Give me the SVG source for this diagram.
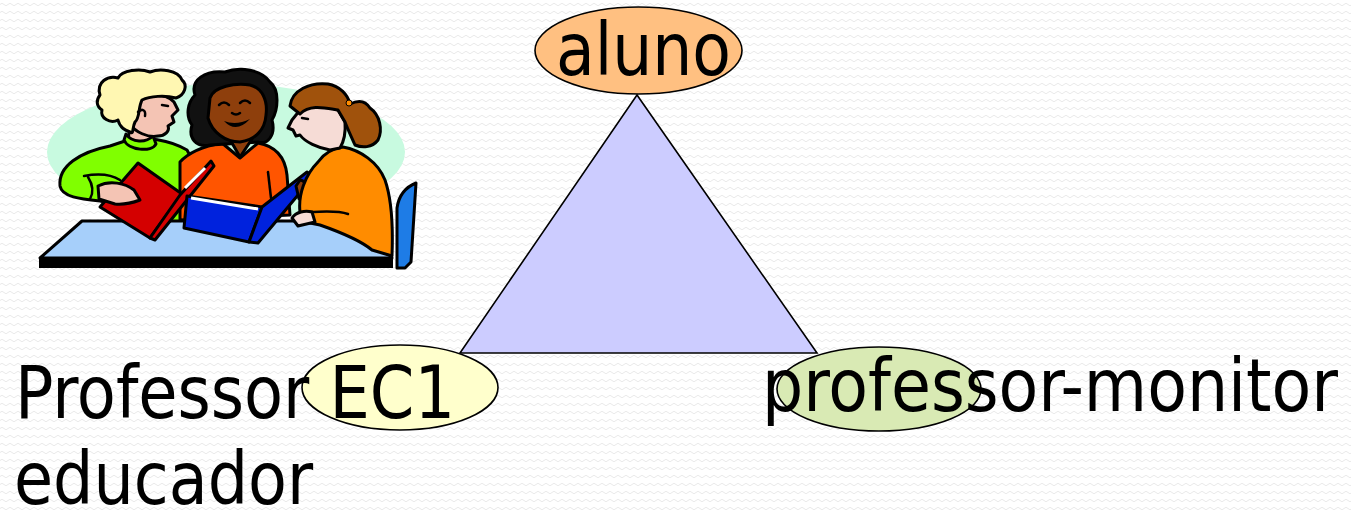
<svg xmlns="http://www.w3.org/2000/svg" width="1351" height="510" viewBox="0 0 1351 510">
<defs>
<pattern id="bgwave" width="8" height="8" patternUnits="userSpaceOnUse">
<path d="M0,4.5 Q2,2 4,4.5 T8,4.5" fill="none" stroke="#e6e6e6" stroke-width="0.9"/>
</pattern>
<style>
.lbl{font-family:"DejaVu Sans Condensed","DejaVu Sans",Verdana,sans-serif;font-size:73px;fill:#000;}
.node{stroke:#000;stroke-width:1.6;}
.ol{stroke:#000;stroke-width:3;stroke-linejoin:round;stroke-linecap:round;}
.ln{fill:none;stroke:#000;stroke-width:2.5;stroke-linecap:round;}
</style>
</defs>
<rect width="1351" height="510" fill="#ffffff"/>
<rect width="1351" height="510" fill="url(#bgwave)"/>

<g id="clipart">
<ellipse cx="226" cy="152" rx="179" ry="68" fill="#c8fae0"/>
<!-- left girl -->
<path class="ol" fill="#80ff00" d="M60,186 C58,166 80,152 110,146 L128,140 C145,136 170,140 187,150 L195,165 L192,222 L120,222 L118,205 L100,201 C80,199 62,197 60,186 Z"/>
<path class="ln" d="M88,177 C93,185 94,192 90,199"/>
<path class="ln" d="M84,176 C100,173 112,175 120,180"/>
<path class="ol" fill="#f4c4b4" d="M130,126 L128,140 C135,146 150,146 153,138 L150,124 Z"/>
<path class="ol" fill="#80ff00" d="M124,140 C128,150 152,153 156,144 L153,136 C146,143 132,143 126,134 Z"/>
<path class="ol" fill="#f4c4b4" d="M132,100 C140,92 165,92 174,102 L178,110 L172,116 L174,122 L168,126 C170,131 165,136 158,136 C148,138 135,132 130,124 Z"/>
<path class="ol" fill="#fff7b2" d="M100,95 C96,82 108,75 118,78 C122,70 140,68 150,72 C160,68 178,70 182,80 C188,85 185,95 176,98 C165,95 150,96 142,100 C138,108 140,118 135,122 C132,128 134,135 130,132 C125,130 120,128 118,120 C110,124 100,118 102,110 C96,106 96,100 100,95 Z"/>
<path class="ln" d="M162,105 L168,106" stroke-width="2"/>
<path class="ln" d="M138,112 C142,108 146,110 145,116" stroke-width="2"/>
<!-- middle girl -->
<path class="ol" fill="#ff5500" d="M180,162 C190,151 205,146 222,143 L240,158 L258,143 C275,146 285,156 287,175 L290,215 L180,220 Z"/>
<path class="ol" fill="#111111" d="M195,95 C190,80 205,70 225,72 C240,66 262,70 270,82 C280,90 278,110 272,120 C276,135 268,145 258,142 L210,145 C196,148 188,138 192,125 C185,115 188,102 195,95 Z"/>
<path class="ol" fill="#8e3f0c" d="M228,136 L240,157 L254,136 Z"/>
<path class="ol" fill="#8e3f0c" d="M210,98 C214,86 235,83 250,85 C262,88 268,100 266,115 C265,130 255,140 240,142 C225,142 212,132 208,118 Z"/>
<path class="ln" d="M219,105 Q224,100 229,105 M240,103 Q245,98 250,103" stroke-width="2"/>
<path class="ln" d="M232,113 Q236,116 240,113" stroke-width="2"/>
<path fill="#000" d="M224,121 Q236,134 250,119 Q236,126 224,121 Z"/>
<path class="ln" d="M268,172 L271,198"/>
<!-- table -->
<path fill="#a6cffa" class="ol" d="M40,258 L82,221 L362,221 L392,258 Z"/>
<rect x="39" y="257" width="354" height="11" fill="#000"/>
<!-- red book -->
<path class="ol" fill="#d40000" d="M138,163 L100,207 L150,238 L182,194 Z"/>
<path class="ol" fill="#d40000" d="M180,195 L211,161 L214,166 L155,240 L150,238 Z"/>
<path d="M185,188 L205,168" stroke="#fff" stroke-width="3"/>
<path class="ol" fill="#f4c4b4" d="M98,186 C110,180 125,183 134,190 L140,200 C132,203 125,205 115,204 L99,199 Z"/>
<!-- blue book -->
<path class="ol" fill="#0022dd" d="M187,196 L184,228 L249,242 L262,207 Z"/>
<path d="M191,198 L258,209" stroke="#fff" stroke-width="3"/>
<path class="ol" fill="#0022dd" d="M249,242 L262,207 L307,172 L313,177 L258,243 Z"/>
<path class="ol" fill="#8e3f0c" d="M300,180 C306,181 311,189 307,199 L299,199 L296,186 Z"/>
<!-- right girl -->
<path class="ol" fill="#ff8c00" d="M300,212 C298,195 305,175 318,162 C325,152 335,148 343,147 C360,150 378,162 385,180 C392,200 393,230 392,256 L372,250 C360,240 340,232 320,225 L305,222 Z"/>
<path class="ln" d="M348,214 C336,210 322,212 310,212"/>
<path class="ol" fill="#f6dcd6" d="M292,218 C296,212 305,210 312,212 L315,222 L298,226 Z"/>
<path class="ol" fill="#f6dcd6" d="M300,110 C312,104 328,106 338,110 L345,122 C346,135 343,143 340,148 L330,150 C318,148 305,142 300,135 L296,136 L293,130 L288,128 L292,120 Z"/>
<path class="ol" fill="#a0520c" d="M290,106 C292,90 310,82 328,84 C340,86 348,95 350,104 C358,100 365,100 370,108 C380,115 383,130 378,140 C372,148 362,148 355,145 C352,138 348,130 345,122 L338,110 C325,108 310,104 300,114 Z"/>
<circle cx="349" cy="103" r="3" fill="#ff8c00" stroke="#000" stroke-width="1"/>
<path class="ln" d="M302,118 L308,119" stroke-width="2"/>
<!-- chair -->
<path class="ol" fill="#1e7ce6" d="M397,268 L397,208 C399,194 406,187 416,183 L411,262 L405,268 Z"/>
</g>

<g id="connectors">
<polygon points="637,95 460,353 817,353" fill="#ccccff" stroke="#000" stroke-width="1.6"/>
</g>

<g id="node-aluno">
<ellipse class="node" cx="638.5" cy="50.5" rx="103.5" ry="43.5" fill="#ffc081"/>
<text class="lbl" x="556" y="75" textLength="175" lengthAdjust="spacingAndGlyphs">aluno</text>
</g>

<g id="node-ec1">
<ellipse class="node" cx="400" cy="387.5" rx="98" ry="42.5" fill="#ffffcc"/>
<text class="lbl" x="15" y="418" textLength="440" lengthAdjust="spacingAndGlyphs">Professor EC1</text>
<text class="lbl" x="14" y="504" textLength="299" lengthAdjust="spacingAndGlyphs">educador</text>
</g>

<g id="node-monitor">
<ellipse class="node" cx="879" cy="389" rx="102" ry="42" fill="#d9eab4"/>
<text class="lbl" x="762" y="411" textLength="576" lengthAdjust="spacingAndGlyphs">professor-monitor</text>
</g>
</svg>
